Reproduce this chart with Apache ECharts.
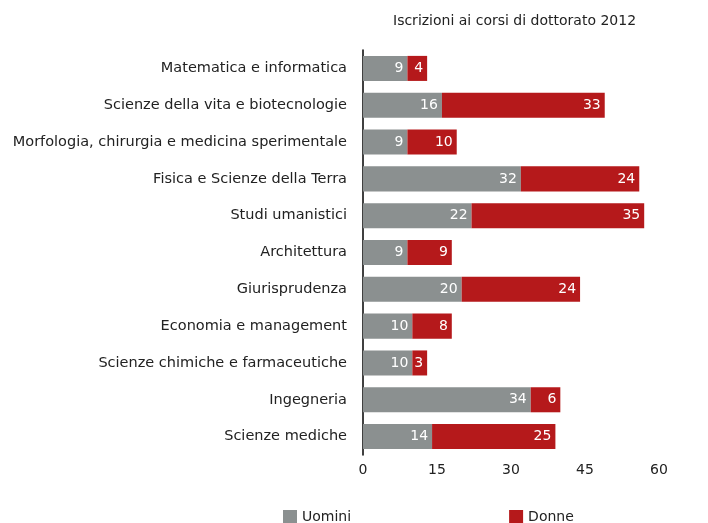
<!DOCTYPE html>
<html><head><meta charset="utf-8">
<script src="https://cdn.jsdelivr.net/npm/echarts@6/dist/echarts.min.js"></script>
<style>html,body{margin:0;padding:0;background:#fff}#c{width:708px;height:523px}</style>
</head><body><div id="c"></div>
<script>
const categories = ["Matematica e informatica","Scienze della vita e biotecnologie","Morfologia, chirurgia e medicina sperimentale","Fisica e Scienze della Terra","Studi umanistici","Architettura","Giurisprudenza","Economia e management","Scienze chimiche e farmaceutiche","Ingegneria","Scienze mediche"];
const uomini = [9,16,9,32,22,9,20,10,10,34,14];
const donne = [4,33,10,24,35,9,24,8,3,6,25];
const xTicks = [0,15,30,45,60];
const font = 'DejaVu Sans, sans-serif';
const chart = echarts.init(document.getElementById('c'));
const lbl = {show:true, position:'insideRight', color:'#fff', fontSize:14, fontFamily:font, distance:4};
chart.setOption({
  backgroundColor:'#fff',
  animation:false,
  title:{text:'Iscrizioni ai corsi di dottorato 2012', left:388, top:9, textStyle:{fontSize:14, fontWeight:'normal', color:'#222', fontFamily:font}},
  legend:{top:505, left:278, itemWidth:14, itemHeight:14, itemGap:158, icon:'rect', textStyle:{fontSize:14, color:'#222', fontFamily:font}, data:['Uomini','Donne']},
  grid:{left:363, right:49, top:50, bottom:68, containLabel:false},
  xAxis:{type:'value', min:xTicks[0], max:xTicks[xTicks.length-1], interval:15,
    axisLine:{show:false}, axisTick:{show:false}, splitLine:{show:false},
    axisLabel:{color:'#222', fontSize:14, fontFamily:font, margin:8}},
  yAxis:{type:'category', inverse:true, data:categories,
    axisLine:{show:true, lineStyle:{color:'#000', width:1.5}}, axisTick:{show:false},
    axisLabel:{color:'#222', fontSize:14.5, fontFamily:font, margin:16}},
  series:[
    {name:'Uomini', type:'bar', stack:'t', data:uomini, barWidth:'68%', itemStyle:{color:'#8b9090'}, label:lbl},
    {name:'Donne', type:'bar', stack:'t', data:donne, barWidth:'68%', itemStyle:{color:'#b5191b'}, label:lbl}
  ]
});
</script></body></html>
